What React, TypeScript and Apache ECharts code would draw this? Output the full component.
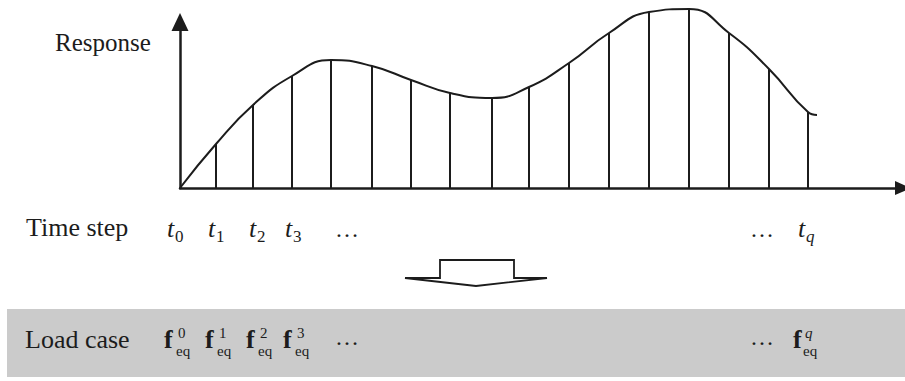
import React, { useEffect, useRef } from "react";
import * as echarts from "echarts";

// Time instants (px offset from origin along the time axis) and response
const stepTimes = [0, 36, 73, 112, 151, 192, 231, 270, 312, 349, 389, 429, 469, 509, 549, 589, 628];
const stepResponse = [0, 44, 83, 112, 128, 122, 108, 95, 90, 101, 125, 155, 176, 179, 155, 119, 76];
// The curve continues a little past the last step
const curveEndTime = [637];
const curveEndResponse = [73];

const stepSubscripts = ["0", "1", "2", "3"];
const loadSuperscripts = ["0", "1", "2", "3"];
const lastStepSymbol = "q";

const SERIF = "Liberation Serif";
const INK = "#1c1c1c";

// annotation layout (pixel positions of the hand-placed labels)
const tLabelX = [167, 208, 249, 285];
const fLabelX = [164, 205, 246, 283];

function buildOption() {
  const stems = stepTimes.map((t, i) => [t, stepResponse[i]]);
  const curve = stems.concat(curveEndTime.map((t, i) => [t, curveEndResponse[i]]));

  const graphics: any[] = [];
  graphics.push({
    type: "rect",
    z: 0,
    shape: { x: 7, y: 309, width: 898, height: 68 },
    style: { fill: "#cbcbcb" },
  });
  const txt = (
    text: string,
    x: number,
    y: number,
    size: number,
    opts: { italic?: boolean; bold?: boolean } = {}
  ) => ({
    type: "text",
    x,
    y,
    z: 10,
    style: {
      text,
      fontFamily: SERIF,
      fontSize: size,
      fontStyle: opts.italic ? "italic" : "normal",
      fontWeight: opts.bold ? "bold" : "normal",
      fill: INK,
      align: "left",
      verticalAlign: "middle",
    },
  });
  graphics.push(txt("Response", 55, 42, 25));
  graphics.push(txt("Time step", 26, 227, 26));
  graphics.push(txt("Load case", 25, 339, 26));

  stepSubscripts.forEach((s, i) => {
    graphics.push(txt("t", tLabelX[i], 228, 26, { italic: true }));
    graphics.push(txt(s, tLabelX[i] + 8, 236, 17));
  });
  graphics.push(txt("…", 335, 229, 24));
  graphics.push(txt("…", 750, 229, 24));
  graphics.push(txt("t", 798, 228, 26, { italic: true }));
  graphics.push(txt(lastStepSymbol, 806, 236, 17, { italic: true }));

  loadSuperscripts.forEach((s, i) => {
    const x = fLabelX[i];
    graphics.push(txt("f", x, 339, 26, { bold: true }));
    graphics.push(txt(s, x + 14, 333, 15));
    graphics.push(txt("eq", x + 12, 351, 15));
  });
  graphics.push(txt("…", 335, 337, 24));
  graphics.push(txt("…", 750, 337, 24));
  graphics.push(txt("f", 793, 339, 26, { bold: true }));
  graphics.push(txt(lastStepSymbol, 805, 333, 15, { italic: true }));
  graphics.push(txt("eq", 803, 351, 15));

  // hollow flat down-arrow
  graphics.push({
    type: "polygon",
    z: 10,
    shape: {
      points: [
        [440, 260],
        [514, 260],
        [514, 278],
        [547, 278],
        [476, 286],
        [405, 278],
        [440, 278],
      ],
    },
    style: { fill: "#ffffff", stroke: INK, lineWidth: 1.8 },
  });

  return {
    animation: false,
    backgroundColor: "#ffffff",
    grid: { left: 180, right: 2, top: 22, bottom: 193 },
    xAxis: {
      type: "value",
      min: 0,
      max: 723,
      axisLine: {
        show: true,
        symbol: ["none", "triangle"],
        symbolSize: [14, 16],
        lineStyle: { color: INK, width: 2.5 },
      },
      axisTick: { show: false },
      axisLabel: { show: false },
      splitLine: { show: false },
    },
    yAxis: {
      type: "value",
      min: 0,
      max: 166,
      axisLine: {
        show: true,
        symbol: ["none", "triangle"],
        symbolSize: [17, 18],
        lineStyle: { color: INK, width: 2.5 },
      },
      axisTick: { show: false },
      axisLabel: { show: false },
      splitLine: { show: false },
    },
    series: [
      {
        type: "line",
        data: curve,
        smooth: 0.5,
        clip: false,
        showSymbol: false,
        symbol: "none",
        lineStyle: { color: INK, width: 2 },
        z: 3,
      },
      {
        type: "custom",
        data: stems,
        clip: false,
        z: 2,
        renderItem: (_params: any, api: any) => {
          const p0 = api.coord([api.value(0), 0]);
          const p1 = api.coord([api.value(0), api.value(1)]);
          return {
            type: "line",
            shape: { x1: p0[0], y1: p0[1], x2: p1[0], y2: p1[1] },
            style: { stroke: INK, lineWidth: 2 },
          };
        },
      },
    ],
    graphic: graphics,
  };
}

export default function App() {
  const ref = useRef<HTMLDivElement>(null);
  useEffect(() => {
    const chart = echarts.init(ref.current!, null, { renderer: "svg" });
    chart.setOption(buildOption() as any);
    return () => chart.dispose();
  }, []);
  return (
    <div
      ref={ref}
      style={{ position: "fixed", left: 0, top: 0, width: 905, height: 381, background: "#fff" }}
    />
  );
}
